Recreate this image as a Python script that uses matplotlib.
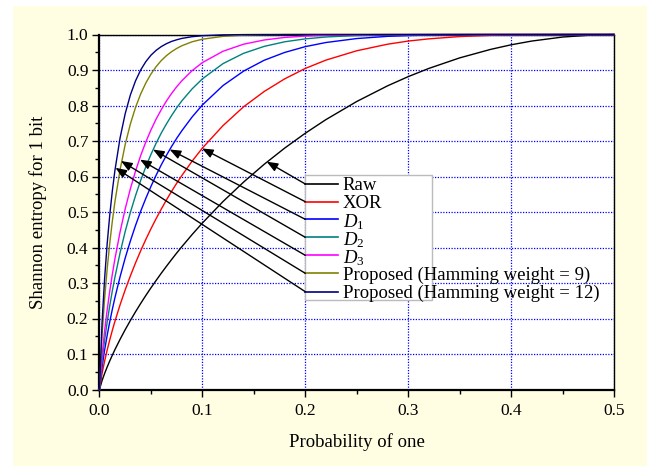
import matplotlib
matplotlib.use("Agg")
import matplotlib.pyplot as plt
from matplotlib.patches import Rectangle
from matplotlib.ticker import MultipleLocator, FormatStrFormatter

plt.rcParams['font.family'] = ['Liberation Serif', 'DejaVu Serif']
plt.rcParams['mathtext.fontset'] = 'custom'
plt.rcParams['mathtext.rm'] = 'Liberation Serif'
plt.rcParams['mathtext.it'] = 'Liberation Serif:italic'

# ---- data ----
p = [0, 0.0025, 0.005, 0.0075, 0.01, 0.0125, 0.015, 0.02, 0.025, 0.03, 0.035,
     0.04, 0.045, 0.05, 0.055, 0.06, 0.065, 0.07, 0.075, 0.08, 0.09, 0.1, 0.12, 0.14, 0.16,
     0.18, 0.2, 0.22, 0.25, 0.28, 0.3, 0.32, 0.35, 0.38, 0.4, 0.42, 0.45, 0.48, 0.5]

raw = [0, 0.0252, 0.0454, 0.0637, 0.0808, 0.0969, 0.1124, 0.1414, 0.1687, 0.1944, 0.2189,
       0.2423, 0.2648, 0.2864, 0.3071, 0.3274, 0.3469, 0.3659, 0.3844, 0.4022, 0.4365, 0.4690,
       0.5294, 0.5842, 0.6343, 0.6801, 0.7219, 0.7602, 0.8113, 0.8555, 0.8813, 0.9044, 0.9341,
       0.9580, 0.9710, 0.9815, 0.9928, 0.9988, 1.0]
xor = [0, 0.0450, 0.0806, 0.1118, 0.1403, 0.1670, 0.1921, 0.2386, 0.2810, 0.3200, 0.3565,
       0.3906, 0.4226, 0.4528, 0.4812, 0.5080, 0.5337, 0.5579, 0.5809, 0.6026, 0.6432, 0.6801,
       0.7433, 0.7963, 0.8394, 0.8751, 0.9044, 0.9278, 0.9542, 0.9727, 0.9815, 0.9877, 0.9942,
       0.9976, 0.9989, 0.9995, 0.9999, 1.0, 1.0]
d1 = [0, 0.0634, 0.1116, 0.1532, 0.1913, 0.2262, 0.2588, 0.3177, 0.3707, 0.4183, 0.4619,
      0.5020, 0.5384, 0.5721, 0.6035, 0.6326, 0.6594, 0.6843, 0.7075, 0.7288, 0.7677, 0.8015,
      0.8561, 0.8968, 0.9274, 0.9495, 0.9658, 0.9774, 0.9886, 0.9948, 0.9970, 0.9984, 0.9995,
      0.9998, 0.9999, 1.0, 1.0, 1.0, 1.0]
d2 = [0, 0.0804, 0.1397, 0.1910, 0.2367, 0.2785, 0.3165, 0.3852, 0.4454, 0.4987, 0.5461,
      0.5888, 0.6273, 0.6622, 0.6936, 0.7223, 0.7478, 0.7715, 0.7933, 0.8130, 0.8468, 0.8751,
      0.9179, 0.9470, 0.9665, 0.9795, 0.9877, 0.9930, 0.9972, 0.9990, 0.9995, 0.9998, 1.0,
      1.0, 1.0, 1.0, 1.0, 1.0, 1.0]
d3 = [0, 0.0958, 0.1661, 0.2254, 0.2779, 0.3251, 0.3682, 0.4440, 0.5091, 0.5654, 0.6151,
      0.6588, 0.6972, 0.7311, 0.7616, 0.7882, 0.8125, 0.8337, 0.8528, 0.8696, 0.8982, 0.9209,
      0.9528, 0.9727, 0.9845, 0.9917, 0.9956, 0.9978, 0.9993, 0.9998, 0.9999, 1.0, 1.0,
      1.0, 1.0, 1.0, 1.0, 1.0, 1.0]
hw9 = [0, 0.1526, 0.2569, 0.3412, 0.4129, 0.4748, 0.5290, 0.6190, 0.6905, 0.7478, 0.7946,
       0.8324, 0.8633, 0.8886, 0.9093, 0.9265, 0.9403, 0.9514, 0.9607, 0.9683, 0.9795, 0.9867,
       0.9948, 0.9981, 0.9993, 0.9998, 1.0, 1.0, 1.0, 1.0, 1.0, 1.0, 1.0,
       1.0, 1.0, 1.0, 1.0, 1.0, 1.0]
hw12 = [0, 0.1902, 0.3143, 0.4123, 0.4926, 0.5601, 0.6173, 0.7089, 0.7773, 0.8297, 0.8693,
        0.9000, 0.9235, 0.9417, 0.9553, 0.9659, 0.9741, 0.9805, 0.9851, 0.9890, 0.9938, 0.9966,
        0.9990, 0.9997, 1.0, 1.0, 1.0, 1.0, 1.0, 1.0, 1.0, 1.0, 1.0,
        1.0, 1.0, 1.0, 1.0, 1.0, 1.0]

labels = ['Raw', 'XOR', r'$D_\mathrm{1}$', r'$D_\mathrm{2}$', r'$D_\mathrm{3}$',
          'Proposed (Hamming weight = 9)', 'Proposed (Hamming weight = 12)']
series = [raw, xor, d1, d2, d3, hw9, hw12]
colors = ['#000000', '#FF0000', '#0000FF', '#008080', '#FF00FF', '#808000', '#000080']

# arrow tips on the curves (data coordinates) and legend row heights
tip_x = [0.1625, 0.0996, 0.0682, 0.0520, 0.0394, 0.0209, 0.0155]
tip_y = [0.6417, 0.6790, 0.6760, 0.6760, 0.6476, 0.6437, 0.6245]
row_y = [0.5789, 0.5290, 0.4794, 0.4287, 0.3780, 0.3273, 0.2755]

xticks = [0.0, 0.1, 0.2, 0.3, 0.4, 0.5]
yticks = [0.0, 0.1, 0.2, 0.3, 0.4, 0.5, 0.6, 0.7, 0.8, 0.9, 1.0]

# ---- figure ----
W, H = 647, 466
fig = plt.figure(figsize=(W / 100, H / 100), dpi=100, facecolor='white')
fig.patches.append(Rectangle((13 / W, 0), 1 - 13 / W, 1 - 6 / H, transform=fig.transFigure,
                             facecolor='#FFFEE2', edgecolor='none', zorder=-10))
L, R, T, B = 99.5, 614.0, 34.5, 389.5
ax = fig.add_axes([L / W, 1 - B / H, (R - L) / W, (B - T) / H])
ax.set_facecolor('white')

for ys, c in zip(series, colors):
    ax.plot(p, ys, color=c, lw=1.0, zorder=3, clip_on=False)

ax.set_xlim(0, 0.5)
ax.set_ylim(0, 1.0)
ax.set_xticks(xticks)
ax.set_yticks(yticks)
ax.xaxis.set_minor_locator(MultipleLocator(0.05))
ax.yaxis.set_minor_locator(MultipleLocator(0.05))
ax.xaxis.set_major_formatter(FormatStrFormatter('%.1f'))
ax.yaxis.set_major_formatter(FormatStrFormatter('%.1f'))
ax.tick_params(which='major', direction='out', length=5, width=1.0, labelsize=12.5, pad=3)
ax.tick_params(which='minor', direction='out', length=3, width=1.0)
ax.tick_params(axis='x', which='major', pad=5)

for s in ['left', 'bottom']:
    ax.spines[s].set_linewidth(1.6)
for s in ['right', 'top']:
    ax.spines[s].set_linewidth(1.0)

ax.grid(True, which='major', color='#0000FF', linestyle=(0, (1, 1.2)), lw=0.9, zorder=0)
ax.set_axisbelow(True)

ax.set_xlabel('Probability of one', fontsize=13.5, labelpad=10)
ax.set_ylabel('Shannon entropy for 1 bit', fontsize=13.5, labelpad=14)

# ---- hand-placed legend box ----
x0, x1 = 0.2, 0.3228
ax.add_patch(Rectangle((x0, 0.252), x1 - x0, 0.352, facecolor='white',
                       edgecolor='#BBBBBB', lw=1.0, zorder=1.5))
hx1 = 0.232
tx = 0.2363
px_y = 1.0 / 355.0
for lab, c, yy in zip(labels, colors, row_y):
    ax.plot([x0, hx1], [yy, yy], color=c, lw=1.2, zorder=4)
    off = 8.0 if lab.startswith('$') else 6.3
    ax.text(tx, yy - off * px_y, lab, fontsize=13.5, va='baseline', ha='left', zorder=5)

for xt, yt, yy in zip(tip_x, tip_y, row_y):
    ax.annotate('', xy=(xt, yt), xytext=(x0, yy),
                arrowprops=dict(arrowstyle='-|>,head_length=0.55,head_width=0.22',
                                color='black', lw=1.0,
                                mutation_scale=12, shrinkA=0, shrinkB=0),
                zorder=4)

fig.savefig('out.png', dpi=100, facecolor=fig.get_facecolor())
